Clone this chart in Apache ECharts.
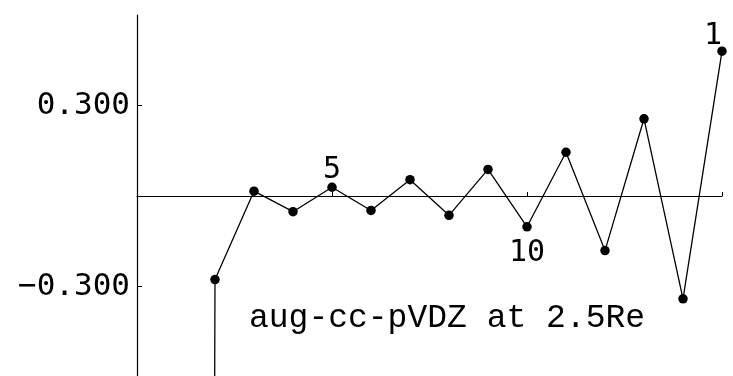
<!DOCTYPE html>
<html>
<head>
<meta charset="utf-8">
<script src="https://cdn.jsdelivr.net/npm/echarts@6/dist/echarts.min.js"></script>
<style>
  html, body { margin: 0; padding: 0; background: #fff; }
  #chart { width: 733px; height: 376px; }
</style>
</head>
<body>
<div id="chart"></div>
<script>
// Index n of each point and the difference plotted for it
const nValues = [1, 2, 3, 4, 5, 6, 7, 8, 9, 10, 11, 12, 13, 14, 15];
const diffValues = [-40, -0.277, 0.016, -0.052, 0.029, -0.048, 0.054, -0.064, 0.088,
                    -0.102, 0.145, -0.181, 0.256, -0.341, 0.480];
// Y ticks that carry a label
const yTickValues = [-0.3, 0.3];
// Index numbers written next to selected points (the last one runs off the frame)
const tagIndex = [5, 10, 15];
const tagText = ['5', '10', '1'];
const tagSide = ['top', 'bottom', 'top'];
const caption = 'aug-cc-pVDZ at 2.5Re';

const chart = echarts.init(document.getElementById('chart'), null, { renderer: 'canvas' });

const labelFont = 'DejaVu Sans Mono';

const tagStyle = {
  5: { distance: -3, offset: [0, 0] },
  10: { distance: 7, offset: [0, 0] },
  15: { distance: -5, offset: [-9, 0] }
};

const seriesData = nValues.map((n, i) => {
  const item = { value: [n, diffValues[i]] };
  const k = tagIndex.indexOf(n);
  if (k >= 0) {
    item.label = Object.assign({
      show: true,
      formatter: tagText[k],
      position: tagSide[k]
    }, tagStyle[n]);
  }
  return item;
});

chart.setOption({
  animation: false,
  backgroundColor: '#ffffff',
  grid: { left: 137, top: 15, width: 585, height: 362, containLabel: false, outerBoundsMode: 'none' },
  xAxis: {
    type: 'value',
    min: 0, max: 15, interval: 5,
    axisLine: { onZero: true, lineStyle: { color: '#000', width: 1.2 } },
    axisTick: { show: true, inside: true, length: 4, lineStyle: { color: '#000', width: 1 } },
    axisLabel: { show: false },
    splitLine: { show: false }
  },
  yAxis: {
    type: 'value',
    min: -0.6, max: 0.6, interval: 0.3,
    axisLine: { show: true, onZero: false, lineStyle: { color: '#000', width: 1.2 } },
    axisTick: { show: true, inside: true, length: 5, customValues: yTickValues, lineStyle: { color: '#000', width: 1 } },
    axisLabel: {
      show: true,
      customValues: yTickValues,
      margin: 7,
      color: '#000',
      fontFamily: labelFont,
      fontSize: 31,
      formatter: v => (v < 0 ? '\u2212' : '') + Math.abs(v).toFixed(3)
    },
    splitLine: { show: false }
  },
  series: [{
    type: 'line',
    data: seriesData,
    clip: true,
    symbol: 'circle',
    symbolSize: 9.5,
    showAllSymbol: true,
    itemStyle: { color: '#000' },
    lineStyle: { color: '#000', width: 1.3 },
    label: {
      show: false,
      color: '#000',
      fontFamily: labelFont,
      fontSize: 30
    }
  }],
  graphic: [{
    type: 'text',
    left: 249,
    top: 302,
    style: {
      text: caption,
      fill: '#000',
      font: '33px "Liberation Mono"'
    }
  }]
});
</script>
</body>
</html>
